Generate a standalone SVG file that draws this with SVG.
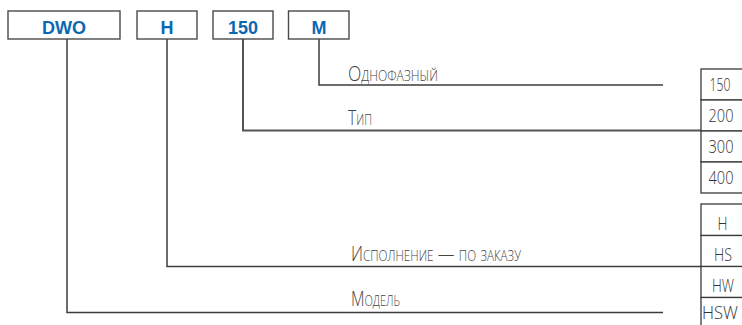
<svg xmlns="http://www.w3.org/2000/svg" width="742" height="325" viewBox="0 0 742 325">
<style>
.code{fill:#fff;stroke:#4a4a4a;stroke-width:1.4}
.ct{font-family:"Liberation Sans",Arial,sans-serif;font-weight:bold;font-size:18px;fill:#0a68b2;text-anchor:middle}
.cell{fill:#fff;stroke:#3a3a3a;stroke-width:1.3}
.vt{font-family:"Open Sans","Liberation Sans",sans-serif;font-weight:300;font-size:19px;fill:#333;text-anchor:middle}
.lab{font-family:"Open Sans","Liberation Sans",sans-serif;font-weight:300;font-size:20px;fill:#444;font-variant:small-caps}
.con{fill:none;stroke:#3c3c3c;stroke-width:1.5}
</style>
<rect width="742" height="325" fill="#fff"/>
<g id="connectors">
<polyline class="con" points="319,39 319,85 663,85"/>
<polyline class="con" points="243,39 243,130.5 701,130.5" style="stroke:#555;stroke-width:2"/>
<polyline class="con" points="167,39 167,266.5 701,266.5"/>
<polyline class="con" points="67,39 67,312.5 663,312.5"/>
</g>
<g id="node-dwo"><rect class="code" x="8" y="11" width="112" height="28"/><text class="ct" x="64" y="34">DWO</text></g>
<g id="node-h"><rect class="code" x="137" y="11" width="60" height="28"/><text class="ct" x="167" y="34">H</text></g>
<g id="node-150"><rect class="code" x="213" y="11" width="60" height="28"/><text class="ct" x="243" y="34">150</text></g>
<g id="node-m"><rect class="code" x="288.5" y="11" width="60.5" height="28"/><text class="ct" x="319" y="34">M</text></g>
<g id="label-phase"><text class="lab" x="348" y="80.5" textLength="90" lengthAdjust="spacingAndGlyphs">Однофазный</text></g>
<g id="label-type"><text class="lab" x="348" y="125" textLength="24" lengthAdjust="spacingAndGlyphs">Тип</text></g>
<g id="label-exec"><text class="lab" x="351" y="261" textLength="170" lengthAdjust="spacingAndGlyphs">Исполнение — по заказу</text></g>
<g id="label-model"><text class="lab" x="351" y="306" textLength="49" lengthAdjust="spacingAndGlyphs">Модель</text></g>
<g id="table-power">
<rect class="cell" x="701" y="69" width="60" height="31"/>
<rect class="cell" x="701" y="100" width="60" height="31"/>
<rect class="cell" x="701" y="131" width="60" height="31"/>
<rect class="cell" x="701" y="162" width="60" height="31"/>
<text class="vt" x="720" y="90.5" textLength="21" lengthAdjust="spacingAndGlyphs">150</text>
<text class="vt" x="721" y="121.5" textLength="25" lengthAdjust="spacingAndGlyphs">200</text>
<text class="vt" x="721" y="152.5" textLength="25" lengthAdjust="spacingAndGlyphs">300</text>
<text class="vt" x="721" y="183.5" textLength="25" lengthAdjust="spacingAndGlyphs">400</text>
</g>
<g id="table-exec">
<rect class="cell" x="701" y="204" width="60" height="31.5"/>
<rect class="cell" x="701" y="235.5" width="60" height="31"/>
<rect class="cell" x="701" y="266.5" width="60" height="31"/>
<rect class="cell" x="701" y="297.5" width="60" height="32"/>
<text class="vt" x="722.5" y="230" textLength="10" lengthAdjust="spacingAndGlyphs">H</text>
<text class="vt" x="723" y="261" textLength="18" lengthAdjust="spacingAndGlyphs">HS</text>
<text class="vt" x="723" y="292" textLength="22" lengthAdjust="spacingAndGlyphs">HW</text>
<text class="vt" x="720" y="319" textLength="36" lengthAdjust="spacingAndGlyphs">HSW</text>
</g>
</svg>
